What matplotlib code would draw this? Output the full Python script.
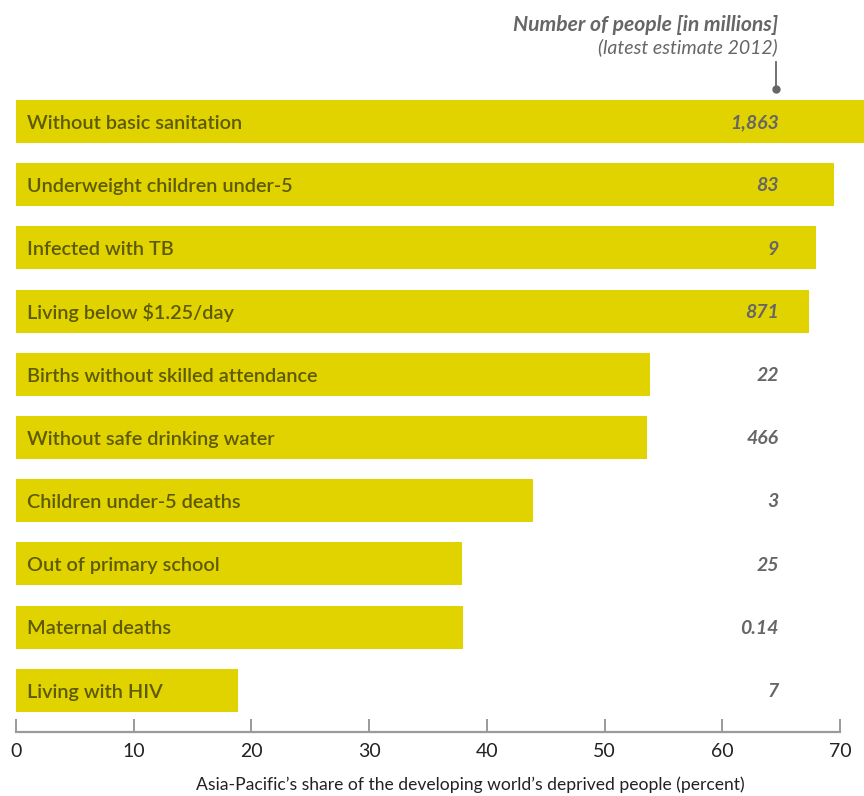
import matplotlib
matplotlib.use("Agg")
import matplotlib.pyplot as plt

categories = [
    "Without basic sanitation",
    "Underweight children under-5",
    "Infected with TB",
    "Living below $1.25/day",
    "Births without skilled attendance",
    "Without safe drinking water",
    "Children under-5 deaths",
    "Out of primary school",
    "Maternal deaths",
    "Living with HIV",
]
share_pct = [72.5, 69.5, 68.0, 67.4, 53.9, 53.6, 43.9, 37.9, 38.0, 18.9]
people_millions = ["1,863", "83", "9", "871", "22", "466", "3", "25", "0.14", "7"]
x_ticks = [0, 10, 20, 30, 40, 50, 60, 70]

BAR = "#E0D300"
LABEL = "#5E5A00"
GREY = "#666666"
AXIS = "#9A9A9A"
FONT = "Lato"

plt.rcParams["font.family"] = [FONT, "DejaVu Sans"]

W, H = 864, 796
fig = plt.figure(figsize=(W / 100, H / 100), dpi=100)

# axes spans from the zero line to the right edge of the figure
left_px, right_px = 16, 864
top_px, bottom_px = 90, 732
ax = fig.add_axes([left_px / W, 1 - bottom_px / H,
                   (right_px - left_px) / W, (bottom_px - top_px) / H])

px_per_unit = 11.77
ax.set_xlim(0, (right_px - left_px) / px_per_unit)
row_px = 63.2
first_center = 121.5
ax.set_ylim((bottom_px - first_center) / row_px, (top_px - first_center) / row_px)

ypos = list(range(len(categories)))
ax.barh(ypos, share_pct, height=0.68, color=BAR, clip_on=True)

for y, name, val in zip(ypos, categories, people_millions):
    ax.text(0.95, y + 0.03, name, ha="left", va="center", fontsize=14.3,
            color=LABEL, fontweight="semibold")
    ax.text(64.8, y + 0.02, val, ha="right", va="center", fontsize=14,
            color=GREY, fontweight="bold", fontstyle="italic")

# header and connector for the value column
fig.text(778 / W, 1 - 25 / H, "Number of people [in millions]", ha="right",
         va="center", fontsize=15.2, color=GREY, fontweight="bold",
         fontstyle="italic")
fig.text(778 / W, 1 - 47 / H, "(latest estimate 2012)", ha="right",
         va="center", fontsize=14, color=GREY, fontstyle="italic")
xc = (776 - left_px) / px_per_unit
y_top = (62 - first_center) / row_px
y_dot = (89 - first_center) / row_px
ax.plot([xc, xc], [y_top, y_dot], color=GREY, lw=1.3, clip_on=False)
ax.plot([xc], [y_dot], "o", color=GREY, ms=5, clip_on=False)

for s in ["top", "right", "left"]:
    ax.spines[s].set_visible(False)
ax.spines["bottom"].set_color(AXIS)
ax.spines["bottom"].set_linewidth(1.6)
ax.spines["bottom"].set_bounds(0, 70)
ax.set_yticks([])
ax.set_xticks(x_ticks)
ax.set_xticklabels([str(t) for t in x_ticks])
ax.tick_params(axis="x", direction="in", length=9.4, width=1.4, color=AXIS,
               labelsize=14, labelcolor="#222222", pad=8)

fig.text(470 / W, 1 - 785 / H,
         "Asia-Pacific\u2019s share of the developing world\u2019s deprived people (percent)",
         ha="center", va="center", fontsize=12.6, color="#222222")

fig.savefig("out.png", dpi=100)
